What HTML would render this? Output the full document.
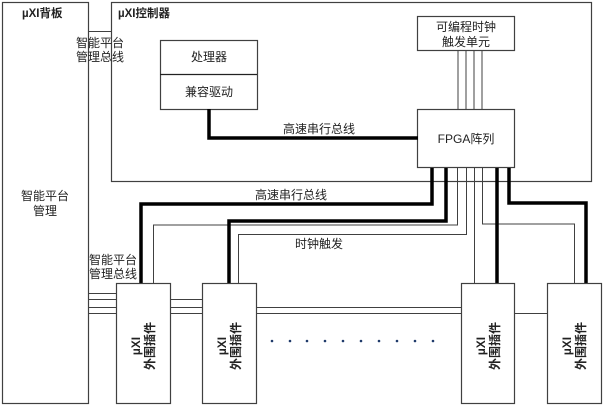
<!DOCTYPE html>
<html><head><meta charset="utf-8"><style>
html,body{margin:0;padding:0;background:#fff;}
svg{display:block;font-family:"Liberation Sans","Noto Sans CJK SC",sans-serif;}
</style></head><body>
<svg width="605" height="408" viewBox="0 0 605 408" xmlns="http://www.w3.org/2000/svg">
<g fill="#fff" stroke="#404040" stroke-width="1.2">
<rect x="2.5" y="2.5" width="86" height="401"/>
<rect x="111.5" y="2.5" width="480" height="179"/>
<rect x="160.5" y="40.5" width="97" height="69"/>
<rect x="417.5" y="16.5" width="97" height="34"/>
<rect x="417.5" y="109.5" width="97" height="58"/>
</g>
<line x1="160" y1="74.5" x2="257" y2="74.5" stroke="#222" stroke-width="1.2"/>
<g stroke="#404040" stroke-width="1" fill="none">
<line x1="89" y1="31.5" x2="111" y2="31.5"/>
<line x1="458" y1="51" x2="458" y2="109"/>
<line x1="466" y1="51" x2="466" y2="109"/>
<line x1="474" y1="51" x2="474" y2="109"/>
<line x1="482" y1="51" x2="482" y2="109"/>
<polyline points="457.5,168 457.5,225 153.5,225 153.5,283"/>
<polyline points="466.5,168 466.5,234.5 238.5,234.5 238.5,283"/>
<line x1="474.5" y1="168" x2="474.5" y2="283"/>
<polyline points="482.5,168 482.5,224 574.5,224 574.5,283"/>
<line x1="89" y1="293.5" x2="116" y2="293.5"/>
<line x1="89" y1="299.5" x2="202" y2="299.5"/>
<line x1="89" y1="307.5" x2="461" y2="307.5"/>
<line x1="89" y1="313.5" x2="547" y2="313.5"/>
</g>
<g stroke="#000" stroke-width="3.5" fill="none">
<polyline points="209,109 209,138 418,138"/>
<polyline points="432,168 432,204 141,204 141,283"/>
<polyline points="446,168 446,221 229,221 229,283"/>
<line x1="497" y1="168" x2="497" y2="283"/>
<polyline points="509,168 509,203 586,203 586,283"/>
</g>
<g fill="#fff" stroke="#404040" stroke-width="1.2">
<rect x="116.5" y="283.5" width="54" height="120"/>
<rect x="202.5" y="283.5" width="54" height="120"/>
<rect x="461.5" y="283.5" width="53" height="120"/>
<rect x="547.5" y="283.5" width="54" height="120"/>
</g>
<g fill="#1f3a6a">
<circle cx="272" cy="341" r="1.3"/><circle cx="290" cy="341" r="1.3"/><circle cx="307" cy="341" r="1.3"/><circle cx="325" cy="341" r="1.3"/><circle cx="343" cy="341" r="1.3"/><circle cx="361" cy="341" r="1.3"/><circle cx="379" cy="341" r="1.3"/><circle cx="397" cy="341" r="1.3"/><circle cx="415" cy="341" r="1.3"/><circle cx="433" cy="341" r="1.3"/>
</g>
<g font-size="12" fill="#222">
<text x="22" y="17" font-weight="bold" font-size="11.5">µXI背板</text>
<text x="118" y="17" font-weight="bold" font-size="11.5">µXI控制器</text>
<text x="76" y="47">智能平台</text>
<text x="76" y="61">管理总线</text>
<text x="209" y="61" text-anchor="middle">处理器</text>
<text x="209" y="96" text-anchor="middle">兼容驱动</text>
<text x="466" y="31" text-anchor="middle">可编程时钟</text>
<text x="466" y="46" text-anchor="middle">触发单元</text>
<text x="466" y="143" text-anchor="middle">FPGA阵列</text>
<text x="283" y="133">高速串行总线</text>
<text x="255" y="199">高速串行总线</text>
<text x="295" y="248">时钟触发</text>
<text x="45" y="200" text-anchor="middle">智能平台</text>
<text x="45" y="215" text-anchor="middle">管理</text>
<text x="89" y="264">智能平台</text>
<text x="89" y="278">管理总线</text>
</g>
<g font-size="12" font-weight="bold" fill="#222" text-anchor="middle">
<g transform="translate(143,346) rotate(-90)"><text x="0" y="-3">µXI</text><text x="0" y="11">外围插件</text></g>
<g transform="translate(229,346) rotate(-90)"><text x="0" y="-3">µXI</text><text x="0" y="11">外围插件</text></g>
<g transform="translate(488,346) rotate(-90)"><text x="0" y="-3">µXI</text><text x="0" y="11">外围插件</text></g>
<g transform="translate(574,346) rotate(-90)"><text x="0" y="-3">µXI</text><text x="0" y="11">外围插件</text></g>
</g>
</svg>
</body></html>
